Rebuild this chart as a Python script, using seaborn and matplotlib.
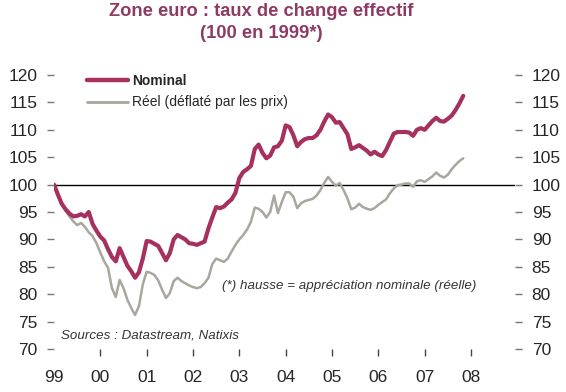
import numpy as np
import pandas as pd
import matplotlib
matplotlib.use("Agg")
import matplotlib.pyplot as plt
import seaborn as sns
from matplotlib.lines import Line2D

# ---- data (monthly, Jan 1999 .. Nov 2007) ----
start_year = 1999
nominal = [100.0, 98.2, 96.5, 95.5, 94.7, 94.2, 94.3, 94.6, 94.2, 95.0, 92.8, 91.6,
           90.5, 89.8, 88.2, 86.8, 86.0, 88.4, 86.8, 85.2, 84.2, 83.0, 84.0, 86.5,
           89.7, 89.6, 89.2, 88.8, 87.5, 86.2, 87.5, 90.0, 90.8, 90.4, 90.0, 89.3,
           89.2, 89.0, 89.3, 89.6, 92.0, 94.0, 95.9, 95.7, 96.0, 96.7, 97.3, 98.5,
           101.2, 102.3, 102.8, 103.4, 106.5, 107.3, 105.8, 104.8, 105.3, 106.8, 107.0, 108.0,
           110.8, 110.5, 109.0, 107.0, 107.8, 108.3, 108.5, 108.5, 109.0, 110.0, 111.5, 112.8,
           112.3, 111.3, 111.4, 110.3, 109.2, 106.5, 106.8, 107.2, 106.7, 106.2, 105.5, 106.0,
           105.5, 105.2, 106.3, 107.8, 109.3, 109.6, 109.6, 109.6, 109.5, 108.9, 110.0, 110.3,
           110.0, 110.8, 111.6, 112.2, 111.6, 111.5, 112.0, 112.6, 113.6, 114.8, 116.2]
reel = [100.0, 98.0, 96.5, 95.2, 94.2, 93.3, 92.6, 93.0, 92.3, 91.3, 90.6, 89.3,
        87.6, 86.0, 84.8, 81.1, 79.5, 82.6, 81.1, 79.0, 77.5, 76.2, 77.8, 81.8,
        84.1, 83.9, 83.5, 82.5, 80.8, 79.3, 80.2, 82.4, 83.0, 82.4, 82.0, 81.6,
        81.3, 81.1, 81.3, 82.0, 83.0, 85.5, 86.5, 86.2, 85.9, 86.5, 87.8, 89.0,
        90.0, 90.8, 91.8, 93.2, 95.8, 95.6, 95.0, 94.0, 95.0, 98.0, 94.8, 96.8,
        98.6, 98.6, 97.8, 95.7, 96.6, 97.0, 97.2, 97.4, 98.0, 99.0, 100.3, 101.4,
        100.5, 99.8, 100.3, 99.0, 97.5, 95.5, 95.8, 96.5, 95.9, 95.6, 95.4, 95.7,
        96.3, 96.8, 97.3, 98.4, 99.3, 99.9, 100.0, 100.2, 100.2, 99.6, 100.6, 100.8,
        100.5, 101.0, 101.5, 102.2, 101.6, 101.3, 101.8, 102.8, 103.6, 104.3, 104.8]
year_ticks = list(range(1999, 2009))
year_labels = ["99", "00", "01", "02", "03", "04", "05", "06", "07", "08"]
y_ticks = [70, 75, 80, 85, 90, 95, 100, 105, 110, 115, 120]
series_names = ["Nominal", "Réel (déflaté par les prix)"]

t = start_year + np.arange(len(nominal)) / 12.0
df = pd.DataFrame({
    "t": np.concatenate([t, t]),
    "val": nominal + reel,
    "serie": [series_names[0]] * len(nominal) + [series_names[1]] * len(reel),
})

sns.set_style("white")
plt.rcParams["font.family"] = ["Liberation Sans", "DejaVu Sans"]

W, H = 566, 392
fig = plt.figure(figsize=(W / 100, H / 100), dpi=100)
ax = fig.add_axes([54 / W, 1 - 349 / H, (515 - 54) / W, (349 - 75) / H])

c_nom = "#A6315F"
c_reel = "#A9A69E"
ax.axhline(100, color="black", lw=1.0, zorder=1)
sns.lineplot(data=df, x="t", y="val", hue="serie", hue_order=series_names,
             palette=[c_nom, c_reel], ax=ax, legend=False, zorder=3)
lines = ax.get_lines()
lines[1].set_linewidth(3.0)
lines[2].set_linewidth(1.8)
lines[2].set_zorder(2)

ax.set_xlim(1999, 2008 + 44 / 46.3)
ax.set_ylim(70, 120)
for s in ax.spines.values():
    s.set_visible(False)
ax.set_xlabel("")
ax.set_ylabel("")

ax.set_xticks(year_ticks)
ax.set_xticklabels(year_labels, fontsize=12.5)
ax.tick_params(axis="x", bottom=True, length=5, width=1, color="#444444", pad=10,
               direction="out")
ax.xaxis.get_major_ticks()[0].tick1line.set_visible(False)

ax.set_yticks(y_ticks)
ax.set_yticklabels([str(v) for v in y_ticks], fontsize=12.5)
ax.tick_params(axis="y", left=True, right=True, labelleft=True, labelright=True,
               length=5, width=1, color="#777777", pad=7, direction="out")

# legend
h = [Line2D([], [], color=c_nom, lw=3.2), Line2D([], [], color=c_reel, lw=2)]
leg = ax.legend(h, series_names, loc="upper left", bbox_to_anchor=(0.045, 1.05),
                frameon=False, fontsize=10, handlelength=2.9, handletextpad=0.35,
                labelspacing=0.55)
leg.get_texts()[0].set_fontweight("bold")

ax.text(0.365, 0.22, "(*) hausse = appréciation nominale (réelle)", transform=ax.transAxes,
        fontsize=9.6, style="italic", color="#333333")
ax.text(0.015, 0.04, "Sources : Datastream, Natixis", transform=ax.transAxes,
        fontsize=9.6, style="italic", color="#333333")

fig.text(261 / W, 1 - 11 / H, "Zone euro : taux de change effectif", ha="center", va="center",
         fontsize=13.2, fontweight="bold", color="#8E3A63")
fig.text(261 / W, 1 - 33 / H, "(100 en 1999*)", ha="center", va="center",
         fontsize=13.2, fontweight="bold", color="#8E3A63")

fig.savefig("out.png", dpi=100)
